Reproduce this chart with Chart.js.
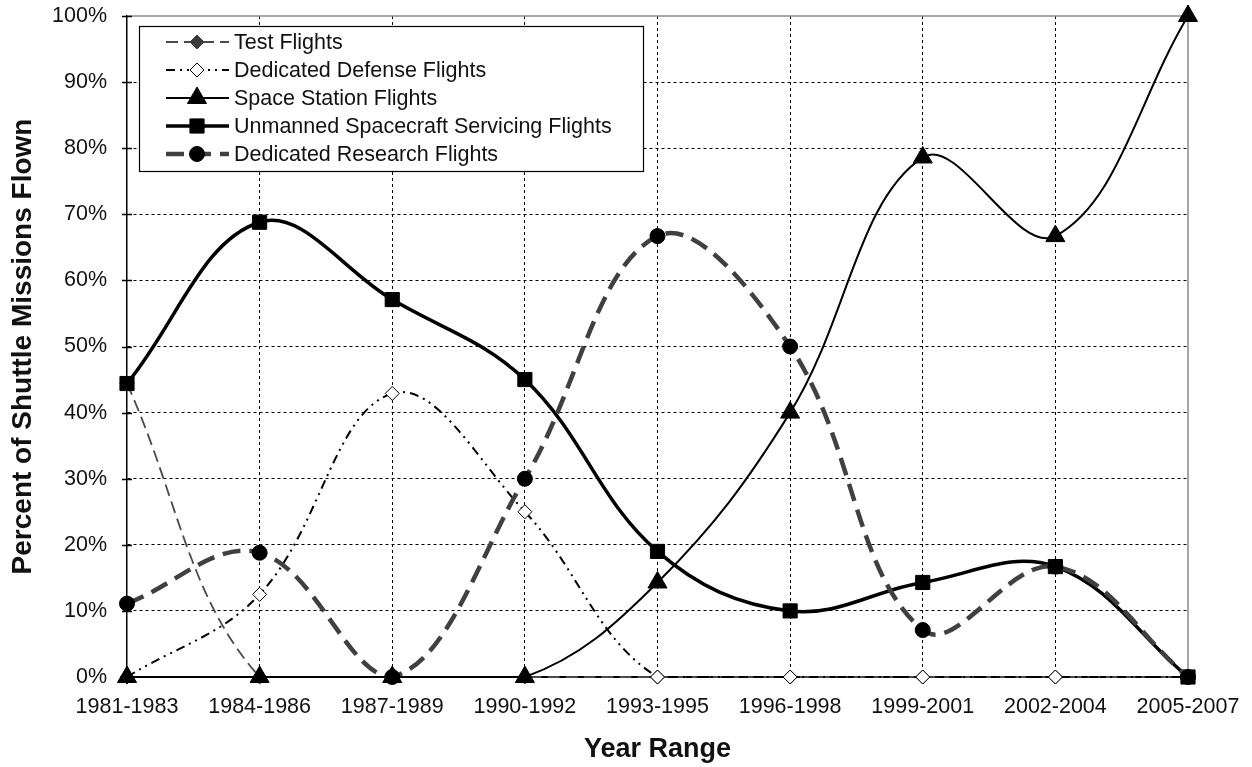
<!DOCTYPE html>
<html>
<head>
<meta charset="utf-8">
<script src="https://cdn.jsdelivr.net/npm/chart.js@4.4.1/dist/chart.umd.min.js"></script>
<style>
  html, body { margin: 0; padding: 0; background: #fff; }
  #wrap { width: 1252px; height: 767px; }
</style>
</head>
<body>
<div id="wrap"><canvas id="c" width="1252" height="767"></canvas></div>
<script>
const categories = ['1981-1983','1984-1986','1987-1989','1990-1992','1993-1995','1996-1998','1999-2001','2002-2004','2005-2007'];
const testFlights      = [44.4, 0, 0, 0, 0, 0, 0, 0, 0];
const defenseFlights   = [0, 12.5, 42.9, 25, 0, 0, 0, 0, 0];
const stationFlights   = [0, 0, 0, 0, 14.3, 40, 78.6, 66.7, 100];
const servicingFlights = [44.4, 68.8, 57.1, 45, 19, 10, 14.3, 16.7, 0];
const researchFlights  = [11.1, 18.8, 0, 30, 66.7, 50, 7.1, 16.7, 0];
const seriesNames = ['Test Flights','Dedicated Defense Flights','Space Station Flights','Unmanned Spacecraft Servicing Flights','Dedicated Research Flights'];
const yTicks = [0,10,20,30,40,50,60,70,80,90,100];

const FONT = '"Liberation Sans", Arial, sans-serif';
const TXT = '#111';

function drawMarker(ctx, style, r, x, y, fill, stroke, bw) {
  ctx.save();
  ctx.fillStyle = fill; ctx.strokeStyle = stroke; ctx.lineWidth = bw; ctx.setLineDash([]);
  ctx.beginPath();
  if (style === 'rectRot') {
    const s = r; ctx.moveTo(x, y - s); ctx.lineTo(x + s, y); ctx.lineTo(x, y + s); ctx.lineTo(x - s, y); ctx.closePath();
  } else if (style === 'rect') {
    const s = r * Math.SQRT1_2; ctx.rect(x - s, y - s, 2 * s, 2 * s);
  } else if (style === 'triangle') {
    const xo = Math.cos(Math.PI/6) * r;
    ctx.moveTo(x - xo, y + r / 2); ctx.lineTo(x + xo, y + r / 2); ctx.lineTo(x, y - r); ctx.closePath();
  } else {
    ctx.arc(x, y, r, 0, Math.PI * 2);
  }
  ctx.fill(); if (bw > 0) ctx.stroke();
  ctx.restore();
}

const frameAndTicks = {
  id: 'frameAndTicks',
  beforeDatasetsDraw(chart) {
    const {ctx, chartArea: a, scales: {y}} = chart;
    ctx.save();
    ctx.strokeStyle = '#8a8a8a'; ctx.lineWidth = 1.5; ctx.setLineDash([]);
    ctx.beginPath(); ctx.moveTo(a.left, a.top); ctx.lineTo(a.right, a.top); ctx.lineTo(a.right, a.bottom); ctx.stroke();
    ctx.strokeStyle = '#000'; ctx.lineWidth = 1.5;
    yTicks.forEach(v => {
      const py = Math.round(y.getPixelForValue(v)) + 0.5;
      ctx.beginPath(); ctx.moveTo(a.left - 5, py); ctx.lineTo(a.left + 5, py); ctx.stroke();
    });
    ctx.restore();
  }
};

const customLegend = {
  id: 'customLegend',
  afterDraw(chart) {
    const {ctx} = chart;
    const bx = 139.5, by = 26.5, bw = 504, bh = 145;
    ctx.save();
    ctx.fillStyle = '#fff'; ctx.fillRect(bx, by, bw, bh);
    ctx.strokeStyle = '#000'; ctx.lineWidth = 1.2; ctx.setLineDash([]);
    ctx.strokeRect(bx, by, bw, bh);
    const rowY = [42, 70, 98, 126, 154];
    chart.data.datasets.forEach((ds, i) => {
      const yy = rowY[i];
      ctx.save();
      ctx.strokeStyle = ds.borderColor; ctx.lineWidth = ds.borderWidth;
      ctx.setLineDash(ds.borderDash || []);
      ctx.beginPath(); ctx.moveTo(166, yy); ctx.lineTo(229, yy); ctx.stroke();
      ctx.restore();
      drawMarker(ctx, ds.pointStyle, ds.pointRadius, 197, yy, ds.pointBackgroundColor, ds.pointBorderColor, ds.pointBorderWidth);
      ctx.fillStyle = TXT; ctx.font = '21.5px ' + FONT; ctx.textBaseline = 'middle'; ctx.textAlign = 'left';
      ctx.fillText(ds.label, 234, yy + 1);
    });
    ctx.restore();
  }
};

const datasets = [
  { label: seriesNames[0], data: testFlights, borderColor: '#4a4a4a', borderWidth: 1.8, borderDash: [12, 6],
    pointStyle: 'rectRot', pointRadius: 7, pointBackgroundColor: '#3a3a3a', pointBorderColor: '#3a3a3a', pointBorderWidth: 1, order: 5 },
  { label: seriesNames[1], data: defenseFlights, borderColor: '#000', borderWidth: 2, borderDash: [9, 5, 2, 5, 2, 5],
    pointStyle: 'rectRot', pointRadius: 7, pointBackgroundColor: '#fff', pointBorderColor: '#000', pointBorderWidth: 1, order: 4 },
  { label: seriesNames[2], data: stationFlights, borderColor: '#000', borderWidth: 2, borderDash: [],
    pointStyle: 'triangle', pointRadius: 11, pointBackgroundColor: '#000', pointBorderColor: '#000', pointBorderWidth: 1, order: 3 },
  { label: seriesNames[3], data: servicingFlights, borderColor: '#000', borderWidth: 3.5, borderDash: [],
    pointStyle: 'rect', pointRadius: 10, pointBackgroundColor: '#000', pointBorderColor: '#000', pointBorderWidth: 1, order: 2 },
  { label: seriesNames[4], data: researchFlights, borderColor: '#404040', borderWidth: 4.5, borderDash: [18, 9],
    pointStyle: 'circle', pointRadius: 7.5, pointBackgroundColor: '#000', pointBorderColor: '#000', pointBorderWidth: 1, order: 1 }
];

new Chart(document.getElementById('c'), {
  type: 'line',
  data: { labels: categories, datasets: datasets.map(d => Object.assign({ tension: 0.38, fill: false, clip: false, pointHoverRadius: d.pointRadius }, d)) },
  options: {
    responsive: false,
    animation: false,
    events: [],
    devicePixelRatio: 1,
    layout: { padding: { left: 0, right: 64, top: 16, bottom: 0 } },
    plugins: { legend: { display: false }, tooltip: { enabled: false } },
    scales: {
      x: {
        afterFit(s) { s.height = 90; s.paddingLeft = 0; s.paddingRight = 0; s.paddingTop = 0; s.paddingBottom = 0; },
        grid: {
          color: c => (c.index === 0 || c.index === categories.length - 1) ? 'rgba(0,0,0,0)' : '#000',
          lineWidth: 1, drawTicks: false
        },
        border: { display: true, color: '#000', width: 2, dash: [3, 3] },
        ticks: { color: TXT, font: { family: FONT, size: 21.5 }, padding: 17, maxRotation: 0, autoSkip: false },
        title: { display: true, text: 'Year Range', color: TXT, font: { family: FONT, size: 27, weight: 'bold' }, padding: { top: 0, bottom: 1 } }
      },
      y: {
        min: 0, max: 100,
        afterFit(s) { s.width = 127; s.paddingLeft = 0; s.paddingRight = 0; s.paddingTop = 0; s.paddingBottom = 0; },
        afterBuildTicks(s) { s.ticks = yTicks.map(v => ({ value: v })); },
        grid: {
          color: c => (c.tick && (c.tick.value === 0 || c.tick.value === 100)) ? 'rgba(0,0,0,0)' : '#000',
          lineWidth: 1, drawTicks: false
        },
        border: { display: true, color: '#000', width: 1.5, dash: [3, 3] },
        ticks: { color: TXT, font: { family: FONT, size: 21.5 }, padding: 20, callback: v => v + '%' },
        title: { display: true, text: 'Percent of Shuttle Missions Flown', color: TXT, font: { family: FONT, size: 28, weight: 'bold' }, padding: { top: 6, bottom: 0 } }
      }
    }
  },
  plugins: [frameAndTicks, customLegend]
});
</script>
</body>
</html>
